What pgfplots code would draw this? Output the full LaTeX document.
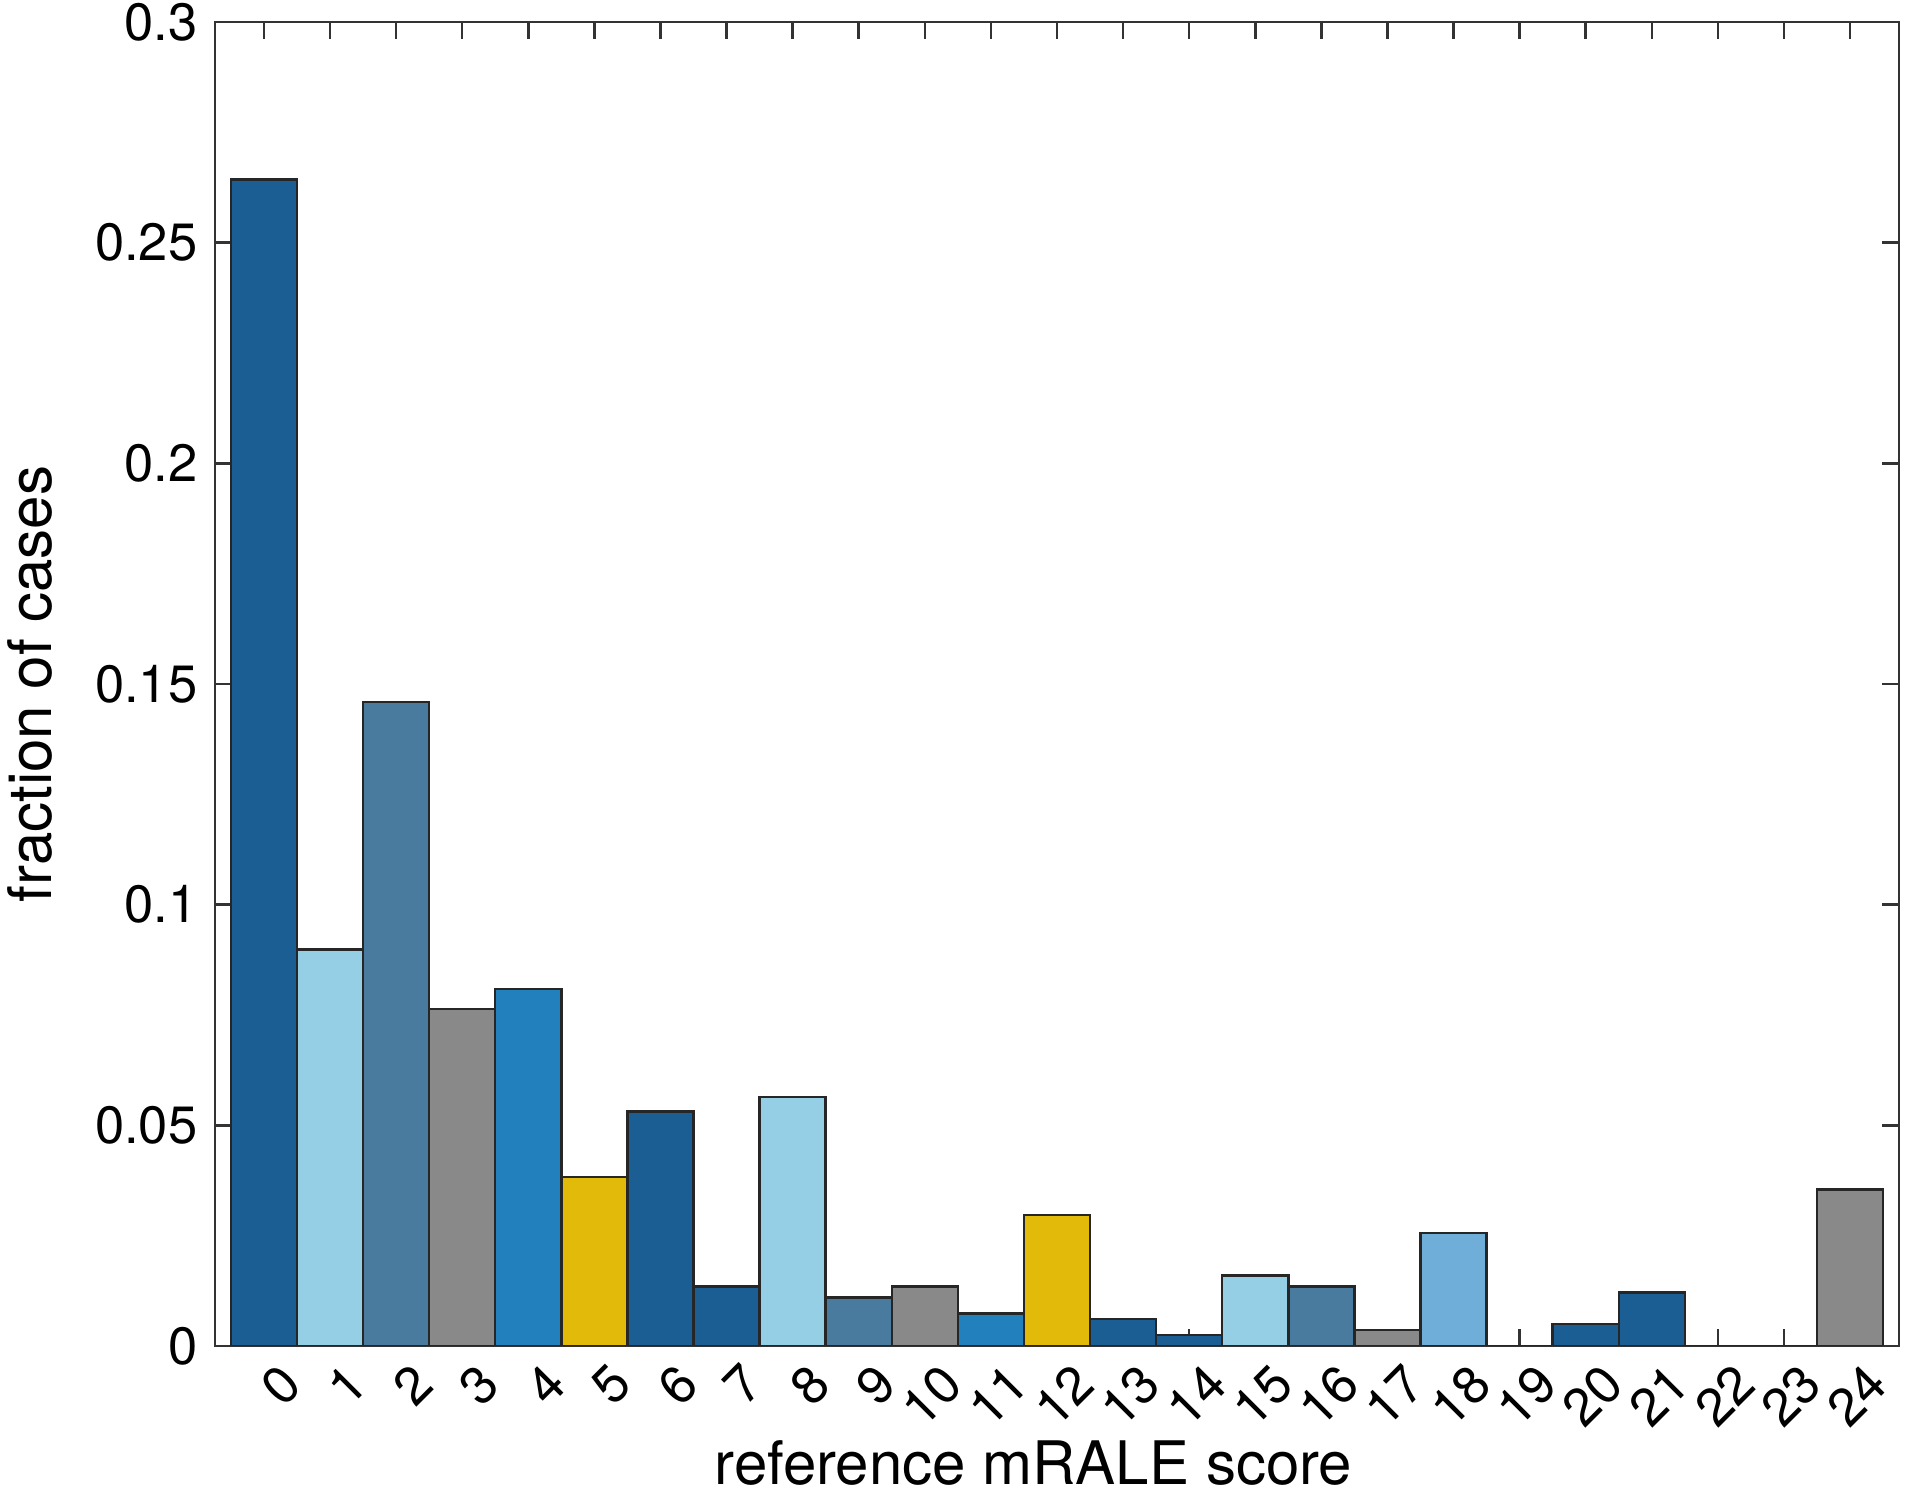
\documentclass[border=0pt]{standalone}
\usepackage{fontspec}
\setmainfont{TeX Gyre Heros}
\usepackage{pgfplots}
\pgfplotsset{compat=1.18}
\definecolor{cdark}{HTML}{1B5E93}
\definecolor{clight}{HTML}{95CFE5}
\definecolor{csteel}{HTML}{497B9F}
\definecolor{cgray}{HTML}{898989}
\definecolor{cmed}{HTML}{2281BC}
\definecolor{cyel}{HTML}{E2BB0A}
\definecolor{csky}{HTML}{6EAED9}
\begin{document}
\begin{tikzpicture}
\useasboundingbox (-43pt,-30.2pt) rectangle (338pt,269.2pt);
\begin{axis}[
  at={(0,0)}, anchor=south west,
  width=336.8pt, height=264.8pt, scale only axis,
  xmin=-0.74, xmax=24.74, ymin=0, ymax=0.3,
  xtick={0,...,24},
  ytick={0,0.05,0.1,0.15,0.2,0.25,0.3},
  yticklabels={0,0.05,0.1,0.15,0.2,0.25,0.3},
  tick align=inside, tick pos=both,
  major tick length=3.4pt,
  minor tick num=0,
  axis line style={line width=0.5pt, black!80},
  every tick/.style={black!80, line width=0.5pt},
  /pgf/number format/assume math mode=true,
  tick label style={font=\fontsize{10.5}{12}\selectfont},
  xticklabel style={rotate=45, anchor=north east, inner sep=0pt, yshift=-4pt, xshift=0pt},
  xlabel={reference mRALE score},
  ylabel={fraction of cases},
  label style={font=\fontsize{12}{14}\selectfont},
  xlabel style={at={(axis description cs:0.486,0)}, anchor=center, yshift=-23.5pt},
  ylabel style={at={(axis description cs:-0.11,0.5)}, anchor=center},
  every axis plot/.append style={ybar, bar width=1, bar shift=0pt, draw=black!85, line width=0.5pt},
]
\addplot[fill=cdark] coordinates {(0,0.2643) (6,0.0531) (7,0.0135) (13,0.0061) (14,0.0025) (20,0.0050) (21,0.0121)};
\addplot[fill=clight] coordinates {(1,0.0898) (8,0.0564) (15,0.0160) (22,0)};
\addplot[fill=csteel] coordinates {(2,0.1459) (9,0.0110) (16,0.0135) (23,0)};
\addplot[fill=cgray] coordinates {(3,0.0763) (10,0.0135) (17,0.0036) (24,0.0355)};
\addplot[fill=cmed] coordinates {(4,0.0809) (11,0.0074)};
\addplot[fill=cyel] coordinates {(5,0.0383) (12,0.0297) (19,0)};
\addplot[fill=csky] coordinates {(18,0.0256)};
\end{axis}
\end{tikzpicture}
\end{document}
